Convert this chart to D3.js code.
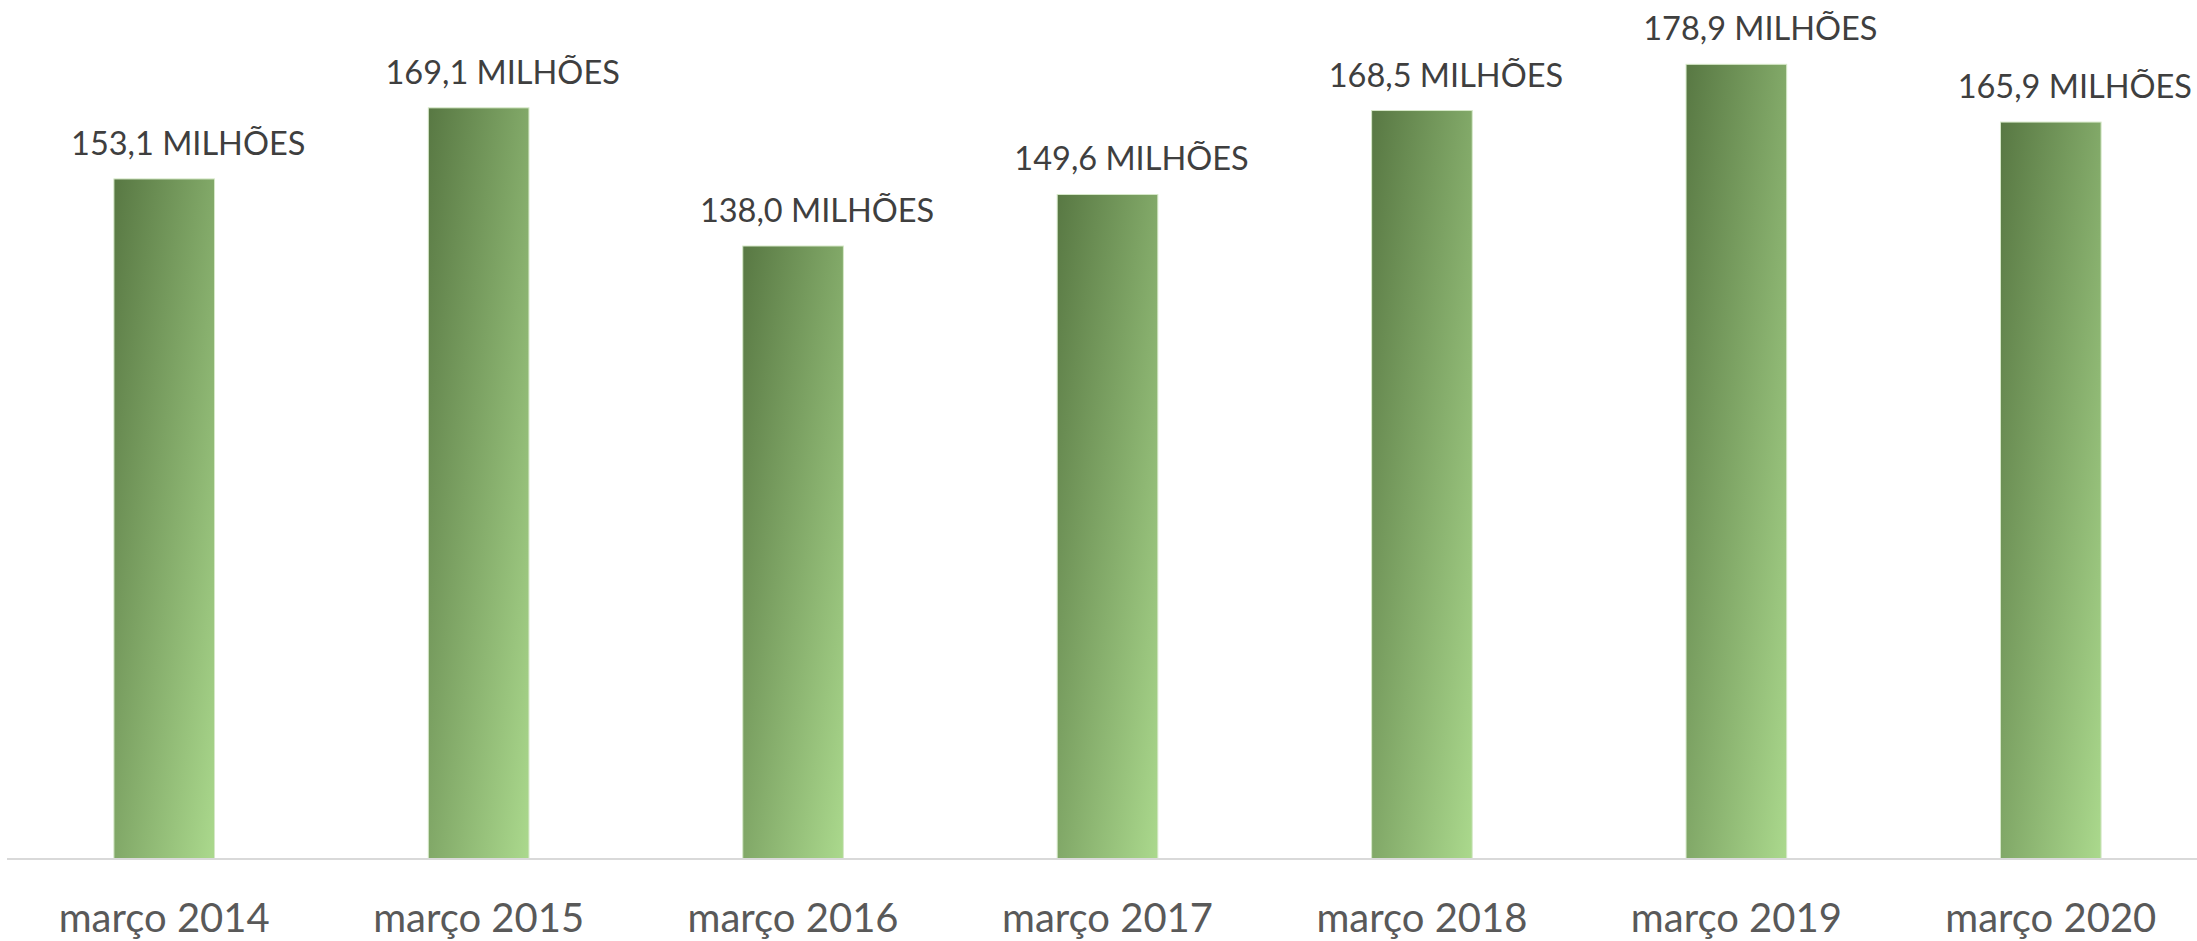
<!DOCTYPE html>
<html>
<head>
<meta charset="utf-8">
<script src="https://cdn.jsdelivr.net/npm/d3@7"></script>
<style>
  html, body { margin: 0; padding: 0; background: #ffffff; overflow: hidden; }
  svg { display: block; }
</style>
</head>
<body>
<script>
// Periods and values (millions)
const categories = ["março 2014", "março 2015", "março 2016", "março 2017", "março 2018", "março 2019", "março 2020"];
const values = [153.1, 169.1, 138.0, 149.6, 168.5, 178.9, 165.9];
const valueLabels = ["153,1 MILHÕES", "169,1 MILHÕES", "138,0 MILHÕES", "149,6 MILHÕES", "168,5 MILHÕES", "178,9 MILHÕES", "165,9 MILHÕES"];

const W = 2197, H = 941;
const baseY = 859;

const svg = d3.select("body").append("svg")
  .attr("width", W).attr("height", H);

const defs = svg.append("defs");
const grad = defs.append("linearGradient")
  .attr("id", "barFill")
  .attr("x1", 0).attr("y1", 0).attr("x2", 1).attr("y2", 1);
grad.append("stop").attr("offset", "0%").attr("stop-color", "#587843");
grad.append("stop").attr("offset", "100%").attr("stop-color", "#abd98d");

const x = d3.scaleBand()
  .domain(categories)
  .range([7, 2208])
  .paddingInner(0.68)
  .paddingOuter(0.34);

const y = d3.scaleLinear()
  .domain([0, 200])
  .range([baseY, baseY - 888.4]);

// Bars
svg.append("g").selectAll("rect")
  .data(values)
  .join("rect")
  .attr("x", (d, i) => x(categories[i]))
  .attr("y", d => y(d))
  .attr("width", x.bandwidth())
  .attr("height", d => y(0) - y(d))
  .attr("fill", "url(#barFill)")
  .attr("stroke", "#d6e8c8")
  .attr("stroke-width", 1);

// Category axis
const axis = d3.axisBottom(x).tickSize(0).tickPadding(0);
const gx = svg.append("g")
  .attr("transform", `translate(0,${baseY})`)
  .call(axis);
gx.select(".domain")
  .attr("d", `M7,0H${W}`)
  .attr("stroke", "#d9d9d9")
  .attr("stroke-width", 2);
gx.selectAll(".tick text")
  .attr("dy", null)
  .attr("y", 73)
  .attr("fill", "#595959")
  .style("font-family", "Lato, 'Open Sans', sans-serif")
  .style("font-size", "40px");

// Value labels above the bars
svg.append("g").selectAll("text")
  .data(values)
  .join("text")
  .attr("x", (d, i) => x(categories[i]) + x.bandwidth() / 2 + 24)
  .attr("y", d => y(d) - 24)
  .attr("text-anchor", "middle")
  .attr("fill", "#3f3f3f")
  .style("font-family", "Lato, 'Open Sans', sans-serif")
  .style("font-size", "32.5px")
  .text((d, i) => valueLabels[i]);
</script>
</body>
</html>
